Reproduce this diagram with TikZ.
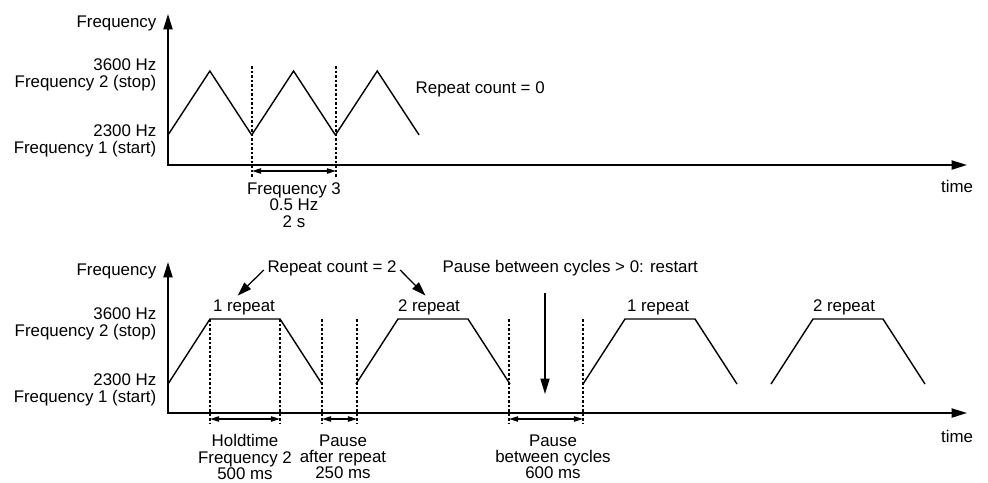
\documentclass[tikz,border=0pt]{standalone}
\usepackage{fontspec}
\setmainfont{Liberation Sans}
\usetikzlibrary{arrows.meta, positioning}

\begin{document}
\begin{tikzpicture}[x=0.025cm, y=-0.025cm,
  lbl/.style={inner sep=1pt, font=\fontsize{12}{11.6}\selectfont},
  axislbl/.style={lbl, align=right, anchor=east},
  dimlbl/.style={lbl, align=center, anchor=north},
  axis/.style={{Triangle[length=11pt, width=6.5pt]}-{Triangle[length=11pt, width=6.5pt]}, line width=1.3pt},
  wave/.style={line width=1pt},
  marker/.style={dash pattern=on 1.8pt off 1.4pt, line width=0.9pt},
  span/.style={{Triangle[length=6.5pt, width=3.8pt]}-{Triangle[length=6.5pt, width=3.8pt]}, line width=0.9pt},
  ptr/.style={-{Triangle[length=10pt, width=6.5pt]}, line width=0.9pt},
  bigptr/.style={-{Triangle[length=11pt, width=6.5pt]}, line width=1pt},
]
  \useasboundingbox (0,0) rectangle (988,482);

  % upper chart
  \coordinate (ytop1) at (168,14);
  \coordinate (orig1) at (168,165);
  \coordinate (xend1) at (967,165);
  \draw[axis] (ytop1) -- (orig1) -- (xend1);

  \node[axislbl] (freq1) at (158,23) {Frequency};
  \node[axislbl] (stop1) at (158,75) {3600 Hz\\Frequency 2 (stop)};
  \node[axislbl] (start1) at (158,141) {2300 Hz\\Frequency 1 (start)};
  \node[lbl] (time1) at (957,186) {time};
  \node[lbl, anchor=west] (rc0) at (414,89) {Repeat count = 0};

  \foreach \s in {168,251.7,335.4}
    \draw[wave] (\s,135) -- ++(41.85,-64) -- ++(41.85,64);

  \foreach \x in {252,336}
    \draw[marker] (\x,66) -- (\x,177);
  \coordinate (f3a) at (252,171);
  \coordinate (f3b) at (336,171);
  \draw[span] (f3a) -- (f3b);
  \node[dimlbl] (f3) at (294,181) {Frequency 3\\0.5 Hz\\2 s};

  % lower chart
  \coordinate (ytop2) at (168,262);
  \coordinate (orig2) at (168,413);
  \coordinate (xend2) at (967,413);
  \draw[axis] (ytop2) -- (orig2) -- (xend2);

  \node[axislbl] (freq2) at (158,271) {Frequency};
  \node[axislbl] (stop2) at (158,324) {3600 Hz\\Frequency 2 (stop)};
  \node[axislbl] (start2) at (158,390) {2300 Hz\\Frequency 1 (start)};
  \node[lbl] (time2) at (957,436) {time};

  \foreach \s in {168,356,583,771}
    \draw[wave] (\s,384) -- ++(42,-65) -- ++(70,0) -- ++(42,65);

  \node[lbl] (rep1) at (244,307) {1 repeat};
  \node[lbl] (rep2) at (429,307) {2 repeat};
  \node[lbl] (rep3) at (658,307) {1 repeat};
  \node[lbl] (rep4) at (844,307) {2 repeat};

  \node[lbl] (rc2) at (332,268) {Repeat count = 2};
  \draw[ptr, shorten <=2pt] (rc2.west) -- ([xshift=-4.5pt, yshift=1.5pt]rep1.north);
  \draw[ptr, shorten <=2pt] (rc2.east) -- ([xshift=-2.5pt, yshift=1.5pt]rep2.north);

  \node[lbl, anchor=west] (restart) at (441,268) {Pause between cycles > 0: restart};
  \coordinate (cyc) at (545,394);
  \draw[bigptr, shorten <=11pt] (restart.south -| cyc) -- (cyc);

  \foreach \x in {210,280,322,357,509,583}
    \draw[marker] (\x,319) -- (\x,423);
  \coordinate (hold1) at (210,419);
  \coordinate (hold2) at (280,419);
  \coordinate (prep1) at (322,419);
  \coordinate (prep2) at (357,419);
  \coordinate (pcyc1) at (509,419);
  \coordinate (pcyc2) at (583,419);
  \draw[span] (hold1) -- (hold2);
  \draw[span] (prep1) -- (prep2);
  \draw[span] (pcyc1) -- (pcyc2);

  \node[dimlbl] (hold) at (245,433) {Holdtime\\Frequency 2\\500 ms};
  \node[dimlbl] (prep) at (343,433) {Pause\\after repeat\\250 ms};
  \node[dimlbl] (pcyc) at (553,433) {Pause\\between cycles\\600 ms};
\end{tikzpicture}
\end{document}
